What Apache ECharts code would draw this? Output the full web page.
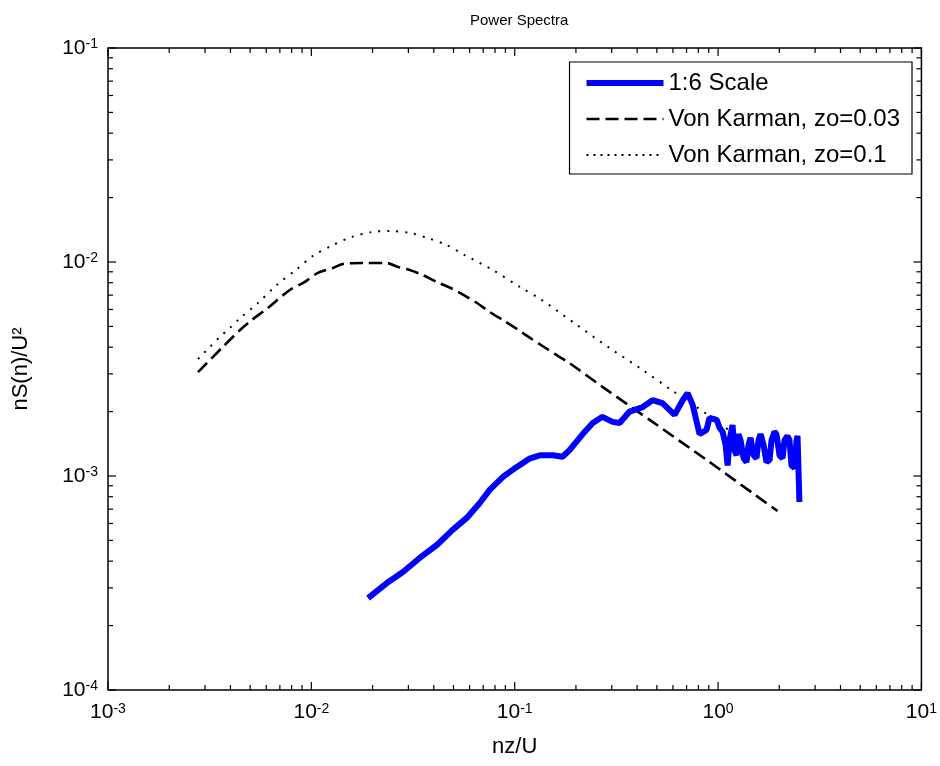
<!DOCTYPE html>
<html>
<head>
<meta charset="utf-8">
<script src="https://cdn.jsdelivr.net/npm/echarts@6/dist/echarts.min.js"></script>
<style>
html,body{margin:0;padding:0;background:#fff;}
#chart{width:940px;height:766px;}
</style>
</head>
<body>
<div id="chart"></div>
<script>
// ---- data ----
const scaleX = [0.0190, 0.0235, 0.0282, 0.0341, 0.0414, 0.0495, 0.0581, 0.0673, 0.0753, 0.0873, 0.102, 0.119, 0.133, 0.154, 0.172, 0.186, 0.216, 0.242, 0.270, 0.303, 0.328, 0.367, 0.426, 0.476, 0.533, 0.611, 0.670, 0.708, 0.750, 0.811, 0.877, 0.908,
  0.984, 1.017, 1.052, 1.089, 1.114, 1.139, 1.178, 1.205, 1.233, 1.261, 1.290, 1.335, 1.380, 1.412, 1.444, 1.494, 1.545, 1.581, 1.618, 1.673, 1.731, 1.791, 1.832, 1.895, 1.937, 2.005, 2.075, 2.122, 2.195, 2.244, 2.297, 2.377, 2.430, 2.459, 2.512, 2.512];
const scaleY = [0.000269, 0.000316, 0.000356, 0.000414, 0.000476, 0.000560, 0.000637, 0.000748, 0.000861, 0.000989, 0.00110, 0.00121, 0.00125, 0.00125, 0.00123, 0.00132, 0.00157, 0.00177, 0.00189, 0.00179, 0.00177, 0.00200, 0.00210, 0.00226, 0.00219, 0.00193, 0.00226, 0.00244, 0.00215, 0.00157, 0.00164, 0.00187,
  0.00183, 0.00168, 0.00161, 0.00140, 0.00112, 0.00147, 0.00173, 0.00132, 0.00125, 0.00157, 0.00147, 0.00121, 0.00116, 0.00140, 0.00151, 0.00125, 0.00121, 0.00147, 0.00157, 0.00140, 0.00116, 0.00119, 0.00147, 0.00161, 0.00157, 0.00125, 0.00121, 0.00147, 0.00154, 0.00147, 0.00112, 0.00109, 0.00147, 0.00154, 0.00151, 0.000756];

const vk003X = [0.00277, 0.00367, 0.00446, 0.00510, 0.00611, 0.00783, 0.00929, 0.01076, 0.01277, 0.01429, 0.0179, 0.0235, 0.0266, 0.0305, 0.0353, 0.0414, 0.0490, 0.0554, 0.0650, 0.0753, 0.0873, 0.102, 0.119, 0.137, 0.161, 0.186, 0.270, 0.476, 0.877, 1.545, 1.96];
const vk003Y = [0.00306, 0.00401, 0.00481, 0.00536, 0.00610, 0.00740, 0.00807, 0.00889, 0.00938, 0.00979, 0.00989, 0.00989, 0.00948, 0.00918, 0.00869, 0.00807, 0.00752, 0.00705, 0.00645, 0.00584, 0.00536, 0.00488, 0.00442, 0.00405, 0.00367, 0.00337, 0.00261, 0.00179, 0.00119, 0.000807, 0.000686];

const vk01X = [0.00277, 0.00317, 0.00355, 0.00398, 0.00446, 0.00546, 0.00676, 0.00849, 0.01016, 0.01277, 0.0158, 0.0198, 0.0243, 0.0305, 0.0373, 0.0463, 0.0567, 0.0780, 0.106, 0.136, 0.202, 0.293, 0.426, 0.590, 0.877, 1.545, 1.96];
const vk01Y = [0.00352, 0.00401, 0.00447, 0.00492, 0.00547, 0.00643, 0.00781, 0.00927, 0.01067, 0.01200, 0.01309, 0.01380, 0.01396, 0.01367, 0.01294, 0.01200, 0.01078, 0.00918, 0.00764, 0.00664, 0.00508, 0.00396, 0.00313, 0.00252, 0.00195, 0.00132, 0.00114];

const seriesNames = ['1:6 Scale', 'Von Karman, zo=0.03', 'Von Karman, zo=0.1'];
const xTickExponents = [-3, -2, -1, 0, 1];
const yTickExponents = [-4, -3, -2, -1];
const titleText = 'Power Spectra';
const xAxisTitle = 'nz/U';
const yAxisTitle = 'nS(n)/U\u00B2';

// ---- helpers ----
const FONT = 'Liberation Sans, Arial, sans-serif';
const zip = (a, b) => a.map((v, i) => [v, b[i]]);
const xMin = Math.pow(10, xTickExponents[0]), xMax = Math.pow(10, xTickExponents[xTickExponents.length - 1]);
const yMin = Math.pow(10, yTickExponents[0]), yMax = Math.pow(10, yTickExponents[yTickExponents.length - 1]);

function tickLabel(v, exps) {
  const e = Math.round(Math.log10(v));
  return exps.indexOf(e) >= 0 ? '10{s|' + e + '}' : '';
}
const richSup = {
  s: { fontSize: 14, fontFamily: FONT, color: '#000', verticalAlign: 'top', lineHeight: 20, padding: [0, 0, 12, 0] }
};

const blueStyle = { color: '#0000ff', width: 6, join: 'bevel' };
const dashStyle = { color: '#000', width: 2.6, type: [13, 6] };
const dotStyle = { color: '#000', width: 2, type: [2, 7] };

// tick marks (major + minor), inward, all four sides
const tickData = [];
function addTicks(exps, axis) {
  for (let i = 0; i < exps.length; i++) {
    const base = Math.pow(10, exps[i]);
    tickData.push([axis, base, 8]);
    if (i < exps.length - 1) for (let m = 2; m <= 9; m++) tickData.push([axis, base * m, 5]);
  }
}
addTicks(xTickExponents, 'x');
addTicks(yTickExponents, 'y');

const chart = echarts.init(document.getElementById('chart'), null, { renderer: 'canvas' });
chart.setOption({
  backgroundColor: '#fff',
  animation: false,
  title: {
    text: titleText, left: 465, top: 8,
    textStyle: { fontSize: 15, fontWeight: 'normal', fontFamily: FONT, color: '#000' }
  },
  legend: {
    orient: 'vertical', right: 28, top: 62,
    data: [
      { name: seriesNames[0], lineStyle: { width: 6, color: '#0000ff', type: 'solid' } },
      { name: seriesNames[1], lineStyle: { width: 2.6, color: '#000', type: [13, 6] } },
      { name: seriesNames[2], lineStyle: { width: 2, color: '#000', type: [2, 5] } }
    ],
    padding: [9, 12, 7, 14],
    borderColor: '#000', borderWidth: 1.2, backgroundColor: '#fff',
    itemWidth: 77, itemHeight: 14, itemGap: 12,
    itemStyle: { opacity: 0 },
    textStyle: { fontSize: 24, fontFamily: FONT, color: '#000' }
  },
  grid: { left: 108, right: 18, top: 48, bottom: 76, show: true, borderColor: '#000', borderWidth: 1.5, backgroundColor: '#fff' },
  xAxis: {
    type: 'log', logBase: 10, min: xMin, max: xMax,
    name: xAxisTitle, nameLocation: 'middle', nameGap: 46,
    nameTextStyle: { fontSize: 22, fontFamily: FONT, color: '#000' },
    axisLine: { show: false }, axisTick: { show: false }, splitLine: { show: false },
    axisLabel: { margin: 12, color: '#000', fontSize: 21, fontFamily: FONT, formatter: v => tickLabel(v, xTickExponents), rich: richSup }
  },
  yAxis: {
    type: 'log', logBase: 10, min: yMin, max: yMax,
    name: yAxisTitle, nameLocation: 'middle', nameGap: 76, nameRotate: 90,
    nameTextStyle: { fontSize: 22, fontFamily: FONT, color: '#000' },
    axisLine: { show: false }, axisTick: { show: false }, splitLine: { show: false },
    axisLabel: { margin: 10, color: '#000', fontSize: 21, fontFamily: FONT, formatter: v => tickLabel(v, yTickExponents), rich: richSup }
  },
  series: [
    {
      name: seriesNames[1], type: 'line', data: zip(vk003X, vk003Y), symbol: 'none', z: 3, smooth: 0.3,
      lineStyle: dashStyle, itemStyle: { color: '#000' }
    },
    {
      name: seriesNames[2], type: 'line', data: zip(vk01X, vk01Y), symbol: 'none', z: 3, smooth: 0.3,
      lineStyle: dotStyle, itemStyle: { color: '#000' }
    },
    {
      name: seriesNames[0], type: 'line', data: zip(scaleX, scaleY), symbol: 'none', z: 5,
      lineStyle: blueStyle, itemStyle: { color: '#0000ff' }
    },
    {
      name: 'ticks', type: 'custom', data: tickData.map((d, i) => [i]), silent: true, z: 6, clip: false,
      encode: { x: -1, y: -1 },
      renderItem: function (params, api) {
        const d = tickData[params.dataIndex];
        const els = [];
        const st = { stroke: '#000', lineWidth: 1.2 };
        if (d[0] === 'x') {
          const b = api.coord([d[1], yMin]), t = api.coord([d[1], yMax]);
          els.push({ type: 'line', shape: { x1: b[0], y1: b[1], x2: b[0], y2: b[1] - d[2] }, style: st });
          els.push({ type: 'line', shape: { x1: t[0], y1: t[1], x2: t[0], y2: t[1] + d[2] }, style: st });
        } else {
          const l = api.coord([xMin, d[1]]), r = api.coord([xMax, d[1]]);
          els.push({ type: 'line', shape: { x1: l[0], y1: l[1], x2: l[0] + d[2], y2: l[1] }, style: st });
          els.push({ type: 'line', shape: { x1: r[0], y1: r[1], x2: r[0] - d[2], y2: r[1] }, style: st });
        }
        return { type: 'group', children: els };
      }
    }
  ]
});
</script>
</body>
</html>
